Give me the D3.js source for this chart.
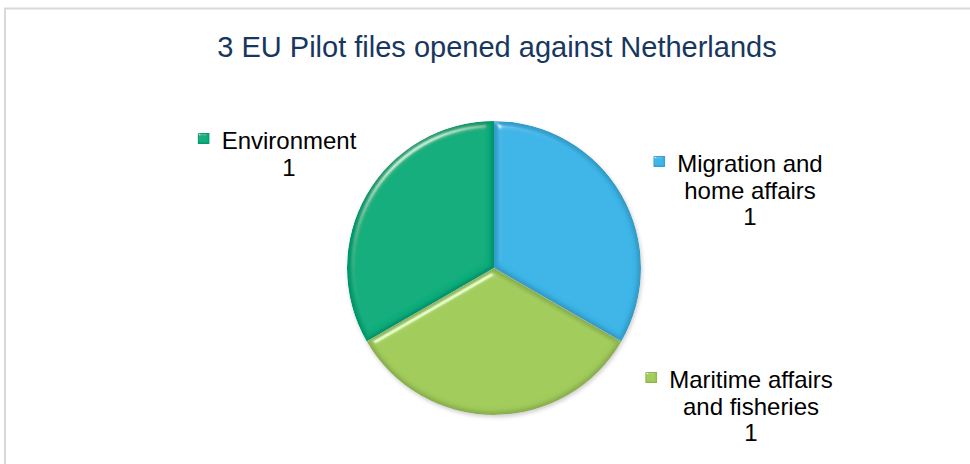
<!DOCTYPE html>
<html>
<head>
<meta charset="utf-8">
<script src="https://cdn.jsdelivr.net/npm/d3@7/dist/d3.min.js"></script>
<style>
  body { margin: 0; background: #fff; }
  text { font-family: "Liberation Sans", Arial, sans-serif; }
</style>
</head>
<body>
<script>
(function(){

//chart data
var categories = ["Migration and home affairs", "Maritime affairs and fisheries", "Environment"];
var values = [1, 1, 1];
var labelLines = [["Migration and", "home affairs"], ["Maritime affairs", "and fisheries"], ["Environment"]];
var colors = ["#3cb5e7", "#a1cc5b", "#08ad7c"];
var chartTitle = "3 EU Pilot files opened against Netherlands";

var width = 970,
    height = 464,
    cx = 494,
    cy = 268,
    radius = 147,
    lineStep = 26.5;

//where each label block sits (center x, first baseline)
var labelAnchors = [
    {x: 750, y: 172},
    {x: 751, y: 388},
    {x: 289, y: 149}
];

var svg = d3.select("body")
    .append("svg")
    .attr("width", width)
    .attr("height", height);

//chart area border
svg.append("rect")
    .attr("x", 5)
    .attr("y", 8.5)
    .attr("width", 980)
    .attr("height", 480)
    .style("fill", "#fff")
    .style("stroke", "#d9d9d9")
    .style("stroke-width", 2);

var defs = svg.append("defs");

//bevel filter: blurred alpha used as a height map, lit from top-left
function makeBevel(id, blur, scale){
    var f = defs.append("filter")
        .attr("id", id)
        .attr("x", "-10%").attr("y", "-10%")
        .attr("width", "120%").attr("height", "120%");
    f.append("feGaussianBlur")
        .attr("in", "SourceAlpha")
        .attr("stdDeviation", blur)
        .attr("result", "blur");
    f.append("feSpecularLighting")
        .attr("in", "blur")
        .attr("surfaceScale", scale)
        .attr("specularConstant", 1.2)
        .attr("specularExponent", 50)
        .attr("lighting-color", "#ffffff")
        .attr("result", "spec")
        .append("feDistantLight")
        .attr("azimuth", 235)
        .attr("elevation", 40);
    f.append("feComposite")
        .attr("in", "spec")
        .attr("in2", "SourceAlpha")
        .attr("operator", "in")
        .attr("result", "specOut");
    f.append("feDiffuseLighting")
        .attr("in", "blur")
        .attr("surfaceScale", scale)
        .attr("diffuseConstant", 1.0)
        .attr("lighting-color", "#ffffff")
        .attr("result", "diff")
        .append("feDistantLight")
        .attr("azimuth", 235)
        .attr("elevation", 90);
    f.append("feComposite")
        .attr("in", "SourceGraphic")
        .attr("in2", "diff")
        .attr("operator", "arithmetic")
        .attr("k1", 1).attr("k2", 0).attr("k3", 0).attr("k4", 0)
        .attr("result", "shaded");
    f.append("feComposite")
        .attr("in", "shaded")
        .attr("in2", "specOut")
        .attr("operator", "arithmetic")
        .attr("k1", 0).attr("k2", 1).attr("k3", 0.45).attr("k4", 0)
        .attr("result", "lit");
    f.append("feComposite")
        .attr("in", "lit")
        .attr("in2", "SourceAlpha")
        .attr("operator", "in");
}
makeBevel("bevel", 3.5, 4.5);
makeBevel("bevelSmall", 1, 1.5);

//soft shadow under the pie
var shadow = defs.append("filter")
    .attr("id", "shadow")
    .attr("x", "-20%").attr("y", "-20%")
    .attr("width", "140%").attr("height", "140%");
shadow.append("feGaussianBlur")
    .attr("in", "SourceAlpha")
    .attr("stdDeviation", 2);

//title
svg.append("text")
    .attr("x", 497)
    .attr("y", 57)
    .attr("text-anchor", "middle")
    .style("font-size", "29px")
    .style("fill", "#17375e")
    .text(chartTitle);

var pie = d3.pie()
    .sort(null)
    .value(function(d){ return d; });

var arc = d3.arc()
    .innerRadius(0)
    .outerRadius(radius);

var arcs = pie(values);

var g = svg.append("g")
    .attr("transform", "translate(" + cx + "," + cy + ")");

g.append("circle")
    .attr("cx", 1)
    .attr("cy", 2)
    .attr("r", radius)
    .style("fill", "#000")
    .style("opacity", 0.2)
    .attr("filter", "url(#shadow)");

g.selectAll(".slice")
    .data(arcs)
    .enter()
    .append("path")
    .attr("class", "slice")
    .attr("d", arc)
    .style("fill", function(d, i){ return colors[i]; })
    .attr("filter", "url(#bevel)");

//data labels
var labels = svg.selectAll(".dataLabel")
    .data(arcs)
    .enter()
    .append("g")
    .attr("class", "dataLabel")
    .attr("transform", function(d, i){
        return "translate(" + labelAnchors[i].x + "," + labelAnchors[i].y + ")";
    });

labels.each(function(d, i){
    var lab = d3.select(this);
    var lines = labelLines[i].concat([String(values[i])]);
    lines.forEach(function(line, j){
        lab.append("text")
            .attr("x", 0)
            .attr("y", j * lineStep)
            .attr("text-anchor", "middle")
            .style("font-size", "24px")
            .style("fill", "#000")
            .text(line);
    });
    //legend key next to first line
    var firstWidth = lab.select("text").node().getComputedTextLength();
    lab.append("rect")
        .attr("x", -firstWidth / 2 - 24)
        .attr("y", -16)
        .attr("width", 12)
        .attr("height", 11)
        .style("fill", colors[i])
        .attr("filter", "url(#bevelSmall)");
});

})();
</script>
</body>
</html>
